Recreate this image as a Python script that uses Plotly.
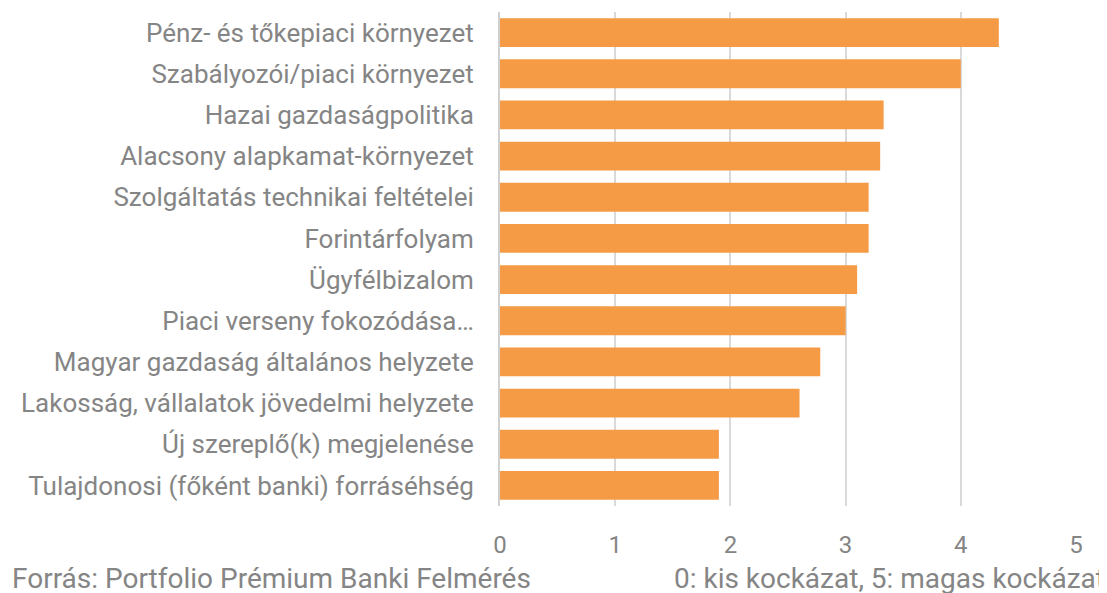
import plotly.graph_objects as go

categories = [
    "Pénz- és tőkepiaci környezet",
    "Szabályozói/piaci környezet",
    "Hazai gazdaságpolitika",
    "Alacsony alapkamat-környezet",
    "Szolgáltatás technikai feltételei",
    "Forintárfolyam",
    "Ügyfélbizalom",
    "Piaci verseny fokozódása…",
    "Magyar gazdaság általános helyzete",
    "Lakosság, vállalatok jövedelmi helyzete",
    "Új szereplő(k) megjelenése",
    "Tulajdonosi (főként banki) forráséhség",
]
values = [4.33, 4.0, 3.33, 3.3, 3.2, 3.2, 3.1, 3.0, 2.78, 2.6, 1.9, 1.9]
tick_vals = [0, 1, 2, 3, 4, 5]
source_text = "Forrás: Portfolio Prémium Banki Felmérés"
note_text = "0: kis kockázat, 5: magas kockázat"

grey = "#858585"
OFF = 8  # page body margin offset
W, H = 1107 - OFF, 593 - OFF
L, T = 500 - OFF, 12 - OFF
R = W - (1076 - OFF)
B = H - (506 - OFF)
pw, ph = W - L - R, H - T - B

fig = go.Figure(go.Bar(
    x=values, y=categories, orientation="h",
    marker=dict(color="#F59B45", line=dict(width=0)),
    width=0.7,
))
fig.update_layout(
    width=W, height=H,
    margin=dict(l=L, r=R, t=T, b=B, autoexpand=False),
    paper_bgcolor="white", plot_bgcolor="white",
    font=dict(family="Roboto", size=26, color=grey),
    showlegend=False,
)
fig.update_xaxes(range=[0, 5], tickvals=tick_vals, showgrid=True,
                 gridcolor="#d9d9d9", gridwidth=2, zeroline=False,
                 showline=False, ticks="", ticklabelstandoff=22,
                 automargin=False, tickfont=dict(size=24, color=grey))
fig.update_yaxes(autorange="reversed", showline=True, linecolor="#d0d0d0",
                 linewidth=2, ticks="", ticklabelstandoff=19,
                 automargin=False, tickfont=dict(size=26, color=grey))
yb = -((578 - OFF) - (H - B)) / ph
fig.add_annotation(text=source_text, xref="paper", yref="paper",
                   x=(10 - OFF - L) / pw, y=yb,
                   xanchor="left", yanchor="middle",
                   showarrow=False, font=dict(size=28, color=grey))
fig.add_annotation(text=note_text, xref="paper", yref="paper",
                   x=(1107 - OFF - L) / pw, y=yb,
                   xanchor="right", yanchor="middle",
                   showarrow=False, font=dict(size=28, color=grey))
fig.write_html("out.html")
